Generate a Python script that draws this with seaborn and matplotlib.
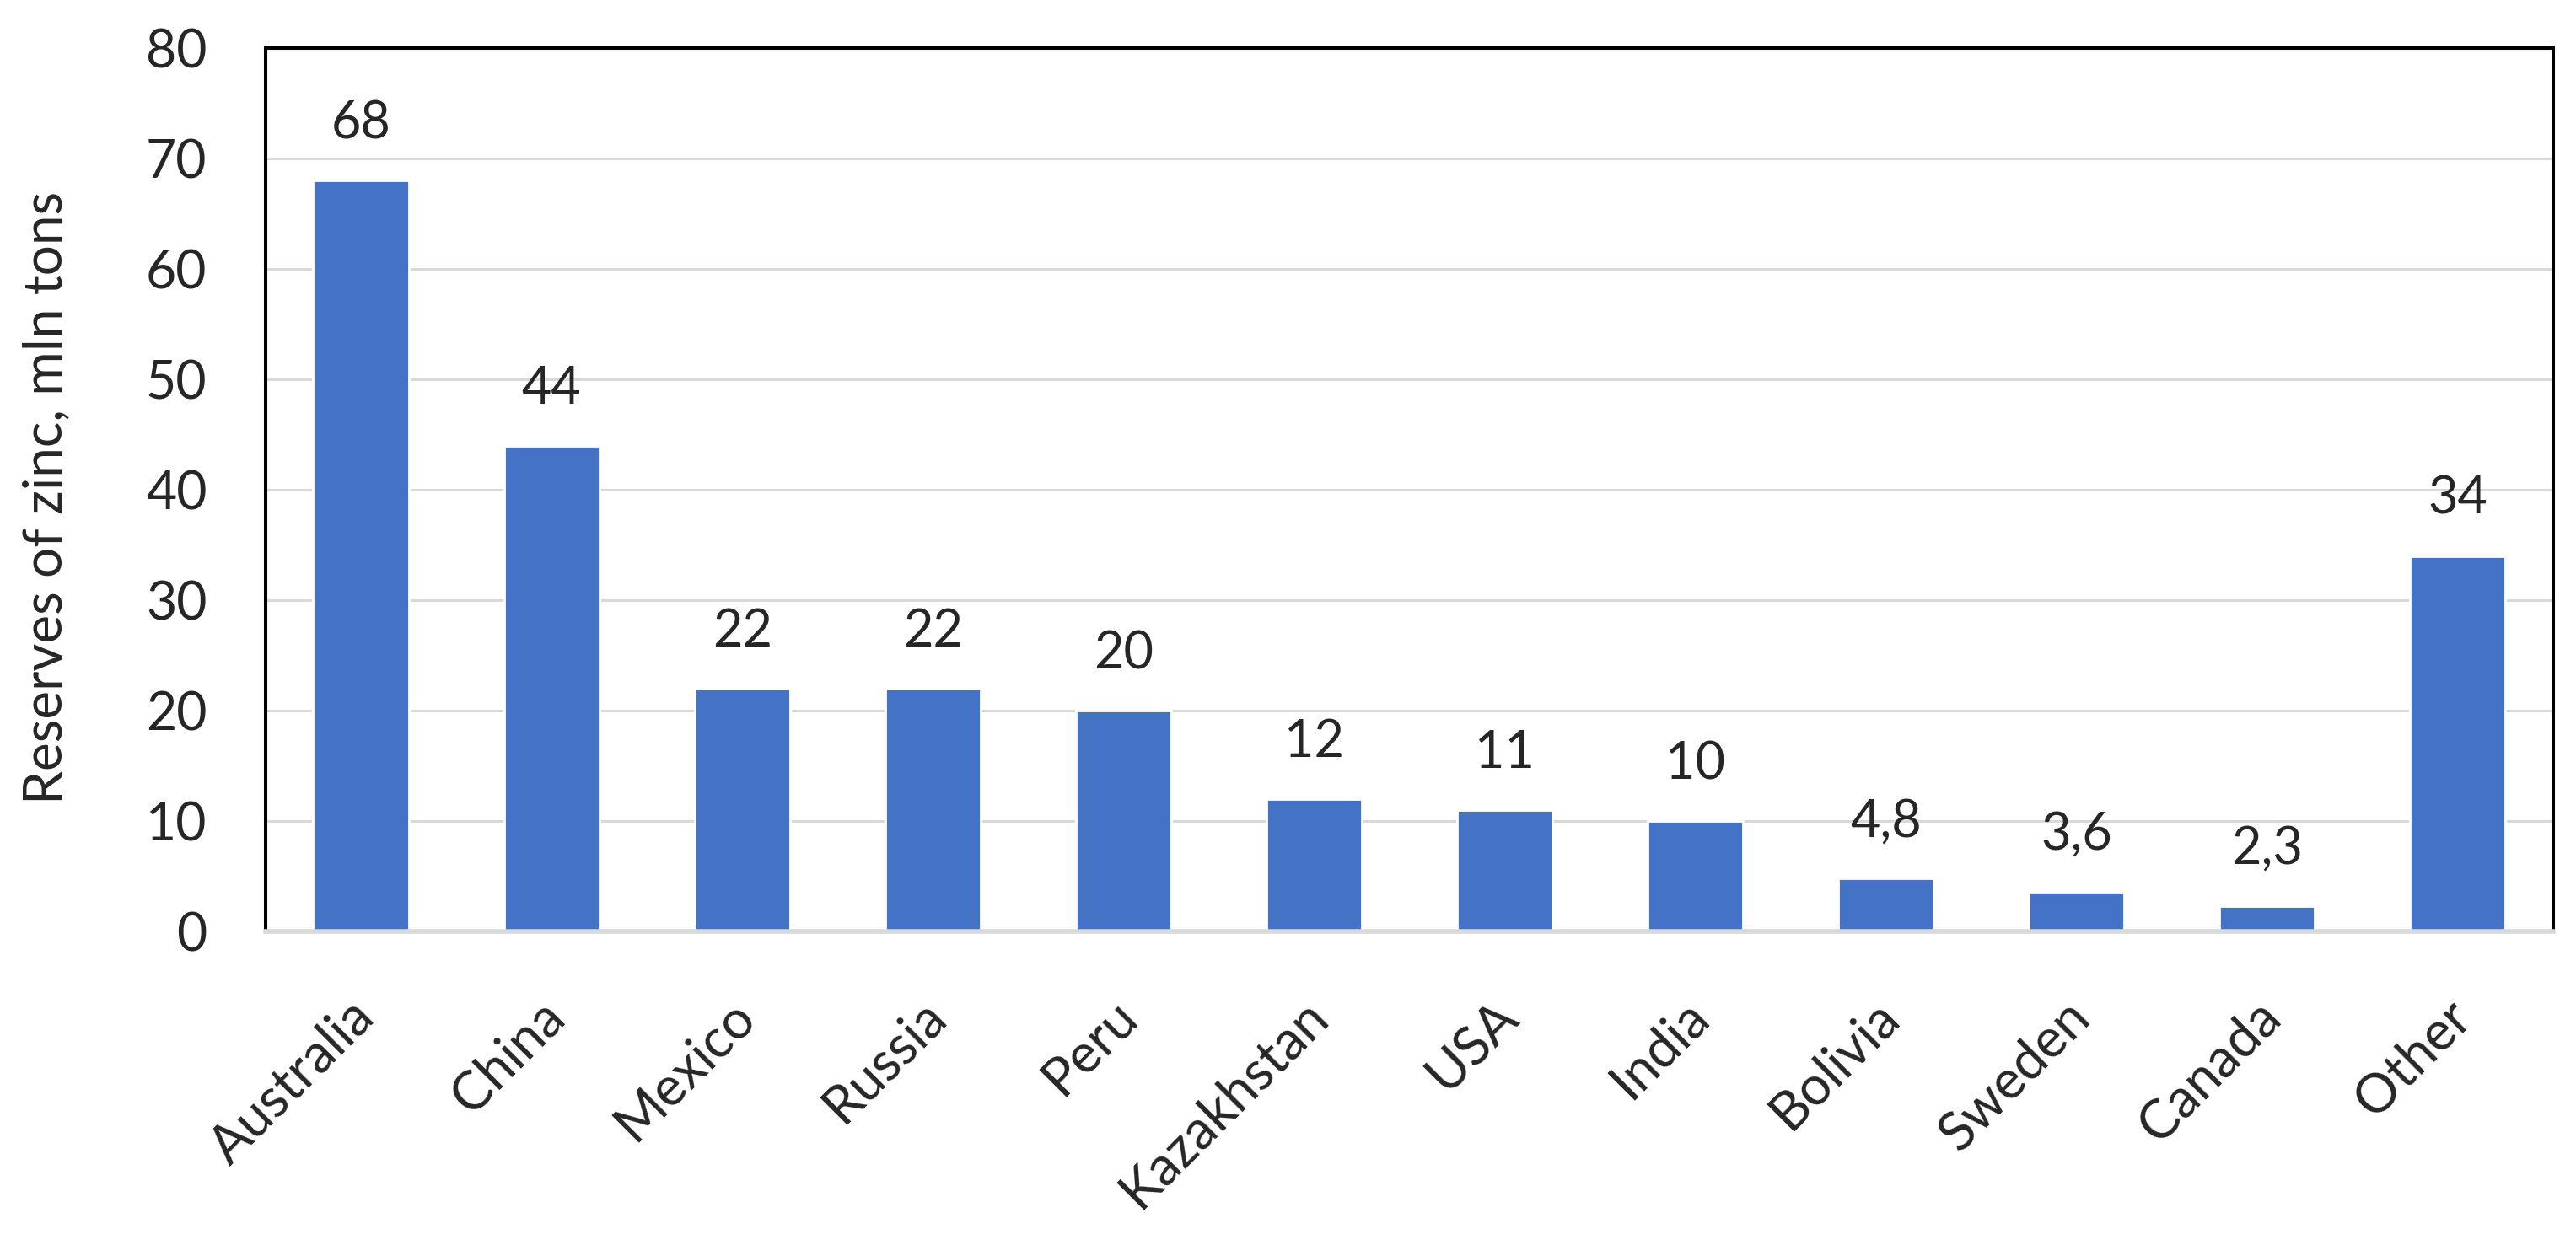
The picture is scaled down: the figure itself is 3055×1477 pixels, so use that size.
import matplotlib
matplotlib.use("Agg")
import matplotlib.pyplot as plt
import matplotlib.transforms as mtransforms
import seaborn as sns
import pandas as pd

# Данные: запасы цинка по странам, млн т
countries = ["Australia", "China", "Mexico", "Russia", "Peru", "Kazakhstan",
             "USA", "India", "Bolivia", "Sweden", "Canada", "Other"]
reserves = [68, 44, 22, 22, 20, 12, 11, 10, 4.8, 3.6, 2.3, 34]
y_ticks = [0, 10, 20, 30, 40, 50, 60, 70, 80]

df = pd.DataFrame({"country": countries, "reserves": reserves})

sns.set_style("white")
plt.rcParams['font.family'] = ['Lato', 'DejaVu Sans']

fig = plt.figure(figsize=(15.275, 7.385), dpi=200)
ax = fig.add_axes([0.1031, 0.2519, 0.888, 0.7096])

sns.barplot(data=df, x="country", y="reserves", color="#4472C4",
            width=0.5, saturation=1, ax=ax)

ax.set_ylim(0, 80)
ax.set_xlim(-0.5, len(countries) - 0.5)
ax.set_yticks(y_ticks)
ax.yaxis.grid(True, color="#D9D9D9", linewidth=1.1)
ax.set_axisbelow(True)

# подписи значений с запятой
labels = [str(v).replace(".", ",") for v in reserves]
ax.bar_label(ax.containers[0], labels=labels, padding=14, fontsize=22)

ax.set_xlabel("")
ax.set_ylabel("")
fig.text(55 / 3055, 1 - 590 / 1477, "Reserves of zinc, mln tons", rotation=90,
         ha="center", va="center", fontsize=23)
ax.tick_params(axis="y", labelsize=22.5, length=0, pad=25)
ax.tick_params(axis="x", labelsize=23, length=0, pad=33)
plt.setp(ax.get_xticklabels(), rotation=45, ha="right", va="center",
         rotation_mode="anchor")
shift = mtransforms.ScaledTranslation(0.03, 0, fig.dpi_scale_trans)
for lbl in ax.get_xticklabels():
    lbl.set_transform(lbl.get_transform() + shift)

for s in ["left", "top", "right"]:
    ax.spines[s].set_color("black")
    ax.spines[s].set_linewidth(1.45)
ax.spines["bottom"].set_color("#D9D9D9")
ax.spines["bottom"].set_linewidth(2)

fig.savefig("out.png", dpi=200, facecolor="white")
